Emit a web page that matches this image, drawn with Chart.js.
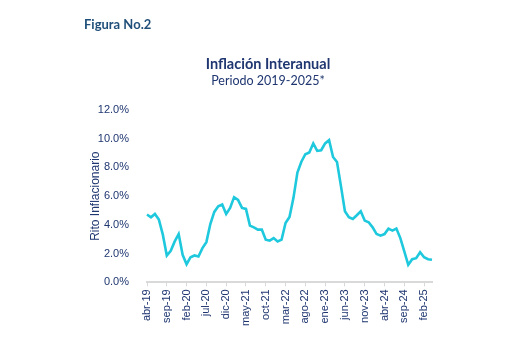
<!DOCTYPE html>
<html>
<head>
<meta charset="utf-8">
<script src="https://cdn.jsdelivr.net/npm/chart.js@4.4.1/dist/chart.umd.min.js"></script>
<style>
  body { margin: 0; background: #fff; }
  #fig { position: absolute; left: 84px; top: 16px; font: bold 13px Lato, sans-serif; color: #1f4e79; }
  .tit { position: absolute; left: 168px; width: 200px; text-align: center; color: #1f3670; font-family: Lato, sans-serif; white-space: nowrap; }
  #t1 { top: 55px; font-size: 14.5px; font-weight: bold; }
  #t2 { top: 73px; font-size: 12.5px; }
  #wrap { position: absolute; left: 0; top: 0; width: 525px; height: 361px; }
</style>
</head>
<body>
<div id="wrap"><canvas id="inflChart"></canvas></div>
<div id="fig">Figura No.2</div>
<div class="tit" id="t1">Inflación Interanual</div>
<div class="tit" id="t2">Periodo 2019-2025*</div>
<script>
// meses abr-19 .. abr-25
const meses = ['ene', 'feb', 'mar', 'abr', 'may', 'jun', 'jul', 'ago', 'sep', 'oct', 'nov', 'dic'];
const etiquetas = [];
for (let i = 0; i < 73; i++) {
    const m = (3 + i) % 12;
    const a = 19 + Math.floor((3 + i) / 12);
    etiquetas.push(meses[m] + '-' + a);
}

// Inflacion interanual (%)
const inflacion = [
    4.72, 4.53, 4.76, 4.37, 3.32, 1.87, 2.20, 2.85, 3.36, 1.92,
    1.26, 1.75, 1.87, 1.80, 2.38, 2.80, 4.06, 4.90, 5.30, 5.42,
    4.76, 5.18, 5.93, 5.74, 5.18, 5.11, 3.95, 3.83, 3.67, 3.67,
    2.97, 2.90, 3.08, 2.85, 2.97, 4.13, 4.55, 5.88, 7.64, 8.40,
    8.92, 9.04, 9.67, 9.15, 9.20, 9.67, 9.90, 8.73, 8.38, 6.70,
    4.95, 4.53, 4.41, 4.67, 4.95, 4.30, 4.18, 3.83, 3.36, 3.25,
    3.36, 3.74, 3.60, 3.74, 3.08, 2.15, 1.22, 1.61, 1.68, 2.10,
    1.75, 1.61, 1.57
];

const azul = '#1f3670';

new Chart(document.getElementById('inflChart'), {
    type: 'line',
    data: {
        labels: etiquetas,
        datasets: [{
            data: inflacion,
            borderColor: '#1ec8dd',
            borderWidth: 2.6,
            pointRadius: 0,
            tension: 0
        }]
    },
    options: {
        responsive: true,
        maintainAspectRatio: false,
        animation: false,
        layout: { padding: { left: 88, right: 93, top: 110, bottom: 32 } },
        plugins: {
            legend: { display: false },
            tooltip: { enabled: false }
        },
        scales: {
            x: {
                afterBuildTicks: function (scale) {
                    scale.ticks = scale.ticks.filter(function (t) { return t.value % 5 === 0; });
                },
                ticks: {
                    autoSkip: false,
                    maxRotation: 90,
                    minRotation: 90,
                    color: azul,
                    padding: 3,
                    font: { family: 'Liberation Sans', size: 11 }
                },
                grid: { drawOnChartArea: false, drawTicks: true, tickLength: 4, color: '#d9d9d9' },
                border: { display: true, color: '#d9d9d9', width: 2 }
            },
            y: {
                min: 0,
                max: 12,
                afterFit: function (scale) { scale.width = 59; },
                ticks: {
                    stepSize: 2,
                    color: azul,
                    padding: 10,
                    font: { family: 'Liberation Sans', size: 11 },
                    callback: function (v) { return v.toFixed(1) + '%'; }
                },
                grid: { display: false },
                border: { display: false },
                title: {
                    display: true,
                    text: 'Rito Inflacionario',
                    color: azul,
                    font: { family: 'Liberation Sans', size: 12 },
                    padding: 0
                }
            }
        }
    }
});
</script>
</body>
</html>
